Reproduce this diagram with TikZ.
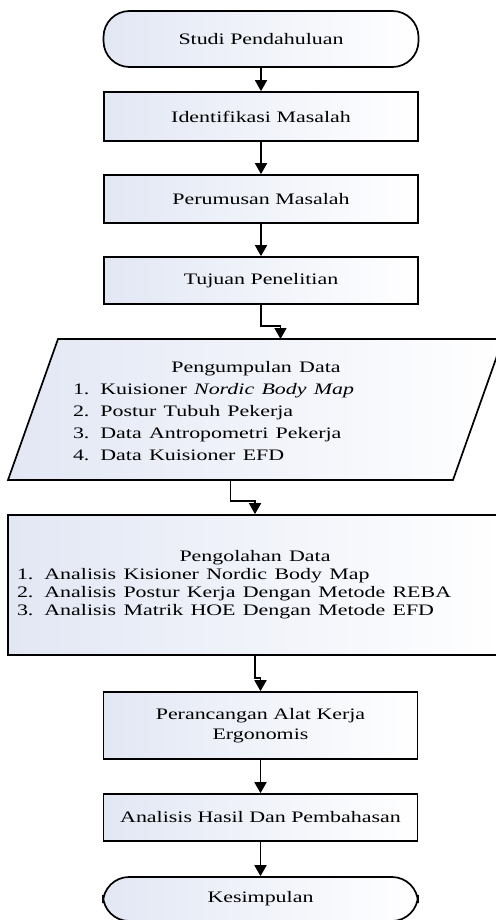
\documentclass[tikz,border=0pt]{standalone}
\usepackage{fontspec}
\usepackage{graphicx}
\setmainfont{Liberation Serif}
\usetikzlibrary{arrows.meta}
\definecolor{boxfill}{RGB}{226,231,244}
\newcommand{\wtxt}[1]{\scalebox{1.37}[1]{#1}}

\begin{document}
\begin{tikzpicture}[x=1pt,y=-1pt]
	\tikzset{every node/.style={font=\fontsize{16}{18}\selectfont}}
	\tikzset{flowbox/.style={draw,line width=1.7pt,left color=boxfill,right color=white,inner sep=0pt}}
	\tikzset{stepbox/.style={flowbox,rectangle,minimum width=314pt}}
	\tikzset{endbox/.style={flowbox,rounded corners=26pt,minimum width=315pt}}
	\tikzset{flowarrow/.style={line width=1.7pt,-{Triangle[width=12pt,length=11pt]}}}
	\useasboundingbox (0,0) rectangle (495,920);
	\node[endbox,minimum height=56pt] (studi) at (261,39) {\wtxt{Studi Pendahuluan}};
	\node[stepbox,minimum height=49pt] (identifikasi) at (261,116.5) {\wtxt{Identifikasi Masalah}};
	\node[stepbox,minimum height=48pt] (perumusan) at (261,199) {\wtxt{Perumusan Masalah}};
	\node[stepbox,minimum height=47pt] (tujuan) at (261,280.5) {\wtxt{Tujuan Penelitian}};
	\draw[flowbox] (58,339) -- (503,339) -- (453,480) -- (8,480) -- cycle;
	\coordinate (kumpul-n) at (280.5,339);
	\coordinate (kumpul-s) at (230.5,480);
	\node[text width=366pt,align=left,font=\fontsize{16}{21.8}\selectfont] (kumpul) at (256,411)
		{\makebox[\hsize]{\wtxt{Pengumpulan Data}}\\
		\wtxt{1. Kuisioner \textit{Nordic Body Map}}\\
		\wtxt{2. Postur Tubuh Pekerja}\\
		\wtxt{3. Data Antropometri Pekerja}\\
		\wtxt{4. Data Kuisioner EFD}};
	\node[flowbox,rectangle,minimum width=494pt,minimum height=140pt,text width=476pt,align=left] (olah) at (255,585)
		{\makebox[\hsize]{\wtxt{Pengolahan Data}}\\
		\wtxt{1. Analisis Kisioner Nordic Body Map}\\
		\wtxt{2. Analisis Postur Kerja Dengan Metode REBA}\\
		\wtxt{3. Analisis Matrik HOE Dengan Metode EFD}};
	\node[stepbox,minimum height=67pt,align=center,font=\fontsize{16}{20}\selectfont] (perancangan) at (260.5,725.5) {\wtxt{Perancangan Alat Kerja}\\\wtxt{Ergonomis}};
	\node[stepbox,minimum height=47pt] (analisis) at (260.5,817.5) {\wtxt{Analisis Hasil Dan Pembahasan}};
	\node[endbox,minimum height=44pt] (kesimpulan) at (260.5,899) {\wtxt{Kesimpulan}};
	\draw[flowarrow] (studi.south) -- (identifikasi.north);
	\draw[flowarrow] (identifikasi.south) -- (perumusan.north);
	\draw[flowarrow] (perumusan.south) -- (tujuan.north);
	\draw[flowarrow] (tujuan.south) -- ++(0,21) -| (kumpul-n);
	\draw[flowarrow] (kumpul-s) -- ++(0,21) -| (olah.north);
	\draw[flowarrow] (olah.south) -- ++(0,22) -| (perancangan.north);
	\draw[flowarrow] (perancangan.south) -- (analisis.north);
	\draw[flowarrow] (analisis.south) -- (kesimpulan.north);
\end{tikzpicture}
\end{document}
